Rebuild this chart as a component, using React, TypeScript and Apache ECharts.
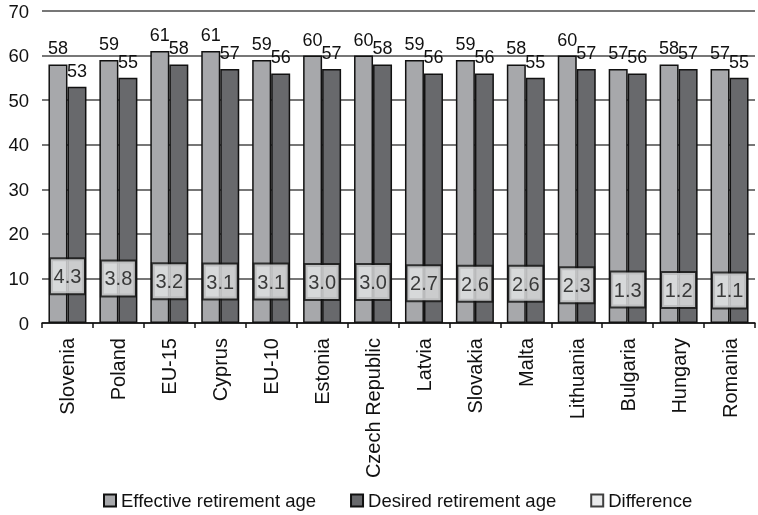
import React, { useEffect, useRef } from "react";
import * as echarts from "echarts";

const categories = ["Slovenia", "Poland", "EU-15", "Cyprus", "EU-10", "Estonia", "Czech Republic", "Latvia", "Slovakia", "Malta", "Lithuania", "Bulgaria", "Hungary", "Romania"];
const effective = [58, 59, 61, 61, 59, 60, 60, 59, 59, 58, 60, 57, 58, 57];
const desired = [53, 55, 58, 57, 56, 57, 58, 56, 56, 55, 57, 56, 57, 55];
const difference = [4.3, 3.8, 3.2, 3.1, 3.1, 3.0, 3.0, 2.7, 2.6, 2.6, 2.3, 1.3, 1.2, 1.1];
const yTicks = { min: 0, max: 70, interval: 10 };

const FONT = "Liberation Sans, Arial, Helvetica, sans-serif";
const INK = "#111111";

export default function App() {
  const ref = useRef<HTMLDivElement>(null);
  useEffect(() => {
    if (!ref.current) return;
    const chart = echarts.init(ref.current, undefined, { renderer: "svg" });
    const valueLabel = {
      show: true,
      position: "top",
      distance: 7,
      fontSize: 18,
      fontFamily: FONT,
      color: INK,
    };
    chart.setOption({
      animation: false,
      textStyle: { fontFamily: FONT, color: INK },
      grid: { left: 42, right: 3, top: 11, bottom: 192, containLabel: false },
      legend: {
        top: 486,
        left: 98,
        itemWidth: 12,
        itemHeight: 12,
        itemGap: 34,
        icon: "rect",
        textStyle: { fontSize: 18.5, fontFamily: FONT, color: INK },
        data: ["Effective retirement age", "Desired retirement age", "Difference"],
      },
      xAxis: {
        type: "category",
        data: categories,
        axisLine: { show: true, lineStyle: { color: INK, width: 1.5 } },
        axisTick: { show: true, length: 5, lineStyle: { color: INK, width: 1.5 } },
        axisLabel: { rotate: 90, fontSize: 20, margin: 15, color: INK, fontFamily: FONT, interval: 0 },
      },
      yAxis: {
        type: "value",
        min: yTicks.min,
        max: yTicks.max,
        interval: yTicks.interval,
        axisLine: { show: false },
        axisTick: { show: false },
        axisLabel: { fontSize: 18.5, margin: 13, color: INK, fontFamily: FONT },
        splitLine: { show: true, lineStyle: { color: "#4a4a4a", width: 1.5 } },
      },
      series: [
        {
          name: "Effective retirement age",
          type: "bar",
          data: effective,
          barWidth: 19,
          barGap: "0%",
          itemStyle: { color: "#a7a8ab", borderColor: INK, borderWidth: 1.5 },
          label: valueLabel,
        },
        {
          name: "Desired retirement age",
          type: "bar",
          data: desired,
          barWidth: 19,
          barGap: "0%",
          itemStyle: { color: "#68696c", borderColor: INK, borderWidth: 1.5 },
          label: valueLabel,
        },
        {
          name: "Difference",
          type: "scatter",
          data: difference,
          symbol: "rect",
          symbolSize: 0,
          z: 5,
          itemStyle: { color: "#e4e5e6", borderColor: INK, borderWidth: 1.5 },
          label: {
            show: true,
            position: "inside",
            offset: [0, -27.6],
            formatter: (p: any) => Number(p.value).toFixed(1),
            fontSize: 20,
            fontFamily: FONT,
            color: INK,
            backgroundColor: "#e4e5e6",
            borderColor: INK,
            borderWidth: 2,
            width: 33,
            height: 34,
            lineHeight: 34,
            padding: 0,
            align: "center",
            verticalAlign: "middle",
          },
        },
      ],
    });
    return () => chart.dispose();
  }, []);
  return <div ref={ref} style={{ position: "fixed", left: 0, top: 0, width: 758, height: 515 }} />;
}
